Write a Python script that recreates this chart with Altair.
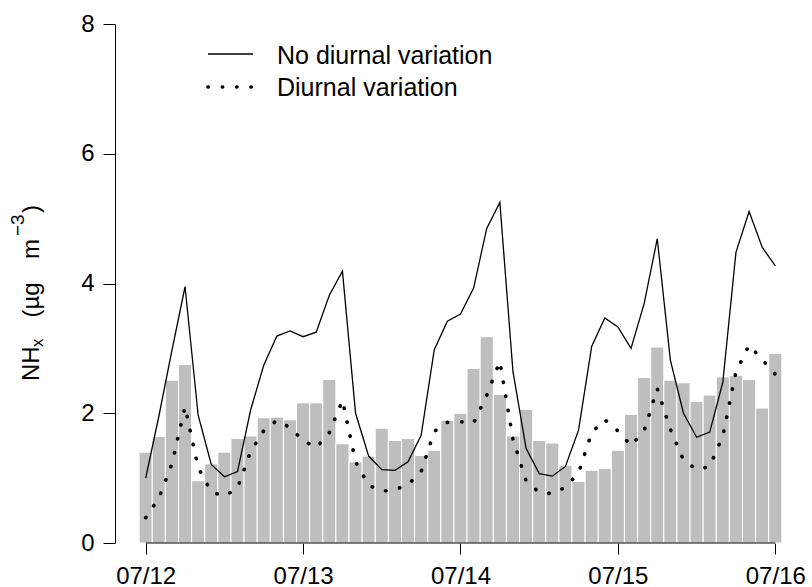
import altair as alt
import pandas as pd

# ---- data (2-hourly, starting 07/12 00:00) ----
hours = list(range(0, 97, 2))
observed = [1.40, 1.64, 2.51, 2.75, 0.96, 1.22, 1.40, 1.61, 1.65, 1.93, 1.94, 1.90,
            2.16, 2.16, 2.52, 1.53, 1.25, 1.34, 1.77, 1.58, 1.61, 1.35, 1.43, 1.89,
            2.00, 2.69, 3.18, 2.29, 1.65, 2.06, 1.58, 1.54, 1.20, 0.95, 1.12, 1.15,
            1.43, 1.98, 2.55, 3.02, 2.51, 2.47, 2.18, 2.28, 2.56, 2.58, 2.52, 2.08,
            2.92]
no_diurnal = [1.00, 1.95, 2.97, 3.95, 1.97, 1.21, 1.02, 1.10, 2.05, 2.74, 3.19, 3.27,
              3.18, 3.25, 3.82, 4.19, 2.00, 1.34, 1.13, 1.12, 1.25, 1.66, 2.98, 3.42,
              3.53, 3.93, 4.85, 5.25, 2.64, 1.46, 1.07, 1.03, 1.18, 1.74, 3.03, 3.47,
              3.33, 3.00, 3.69, 4.69, 2.82, 2.00, 1.63, 1.71, 2.48, 4.48, 5.11, 4.56,
              4.27]
diurnal = [0.39, 0.69, 1.22, 2.10, 1.16, 0.79, 0.72, 0.85, 1.41, 1.73, 1.89, 1.78,
           1.58, 1.47, 1.70, 2.20, 1.25, 0.89, 0.80, 0.82, 0.90, 1.10, 1.72, 1.86,
           1.87, 1.85, 2.28, 2.80, 1.60, 0.96, 0.78, 0.76, 0.86, 1.08, 1.70, 1.90,
           1.73, 1.50, 1.73, 2.38, 1.75, 1.28, 1.13, 1.18, 1.65, 2.64, 3.05, 2.83,
           2.60]
day_ticks = [0, 24, 48, 72, 96]
day_labels = ["07/12", "07/13", "07/14", "07/15", "07/16"]
y_ticks = [0, 2, 4, 6, 8]
legend_labels = ["No diurnal variation", "Diurnal variation"]

FONT = "Liberation Sans"
FS = 24

df = pd.DataFrame({
    "h": hours,
    "h0": [h - 1 for h in hours],
    "h1": [h + 1 for h in hours],
    "obs": observed,
    "nd": no_diurnal,
    "d": diurnal,
    "zero": [0] * len(hours),
})

xscale = alt.Scale(domain=[-4.68, 100.68], nice=False, zero=False)
yscale = alt.Scale(domain=[0, 8], nice=False, zero=True)

label_expr = " : ".join(f"datum.value == {t} ? '{l}'" for t, l in zip(day_ticks, day_labels)) + " : ''"

xaxis = alt.Axis(values=day_ticks, labelExpr=label_expr, domain=False, grid=False,
                 tickSize=11, tickColor="black", tickWidth=1,
                 labelFontSize=FS, labelFont=FONT, labelColor="black",
                 labelPadding=10, title=None, labelOverlap=False, labelFlush=False)
yaxis = alt.Axis(values=y_ticks, format="d", grid=False, domain=True, domainColor="black",
                 domainWidth=1, tickSize=12, tickColor="black", tickWidth=1,
                 labelFontSize=FS, labelFont=FONT, labelColor="black",
                 labelPadding=9, title=None)

bars = alt.Chart(df).mark_rect(color="#bebebe", stroke="white", strokeWidth=1).encode(
    x=alt.X("h0:Q", scale=xscale, axis=xaxis),
    x2="h1:Q",
    y=alt.Y("obs:Q", scale=yscale, axis=yaxis),
    y2="zero:Q",
)

axis_df = pd.DataFrame({"a": [day_ticks[0]], "b": [day_ticks[-1]], "y": [0]})
xline = alt.Chart(axis_df).mark_rule(color="black", strokeWidth=1).encode(
    x=alt.X("a:Q", scale=xscale), x2="b:Q", y=alt.Y("y:Q", scale=yscale))

line_nd = alt.Chart(df).mark_line(color="black", strokeWidth=1.3).encode(
    x=alt.X("h:Q", scale=xscale), y=alt.Y("nd:Q", scale=yscale))
line_d = alt.Chart(df).mark_line(color="black", strokeWidth=3.6, strokeDash=[0.4, 13.9],
                                 strokeCap="round").encode(
    x=alt.X("h:Q", scale=xscale), y=alt.Y("d:Q", scale=yscale))

# ---- legend (manual, pixel positions relative to plot area) ----
one = pd.DataFrame({"k": [0]})
leg_solid = alt.Chart(one).mark_rule(color="black", strokeWidth=1.3).encode(
    x=alt.value(93), x2=alt.value(138), y=alt.value(30))
leg_dot = alt.Chart(one).mark_rule(color="black", strokeWidth=3.6, strokeDash=[0.4, 13.9],
                                   strokeCap="round").encode(
    x=alt.value(93), x2=alt.value(138), y=alt.value(63))
leg_df = pd.DataFrame({"label": legend_labels, "yy": [39.5, 71.5]})
leg_text = alt.Chart(leg_df).mark_text(align="left", baseline="alphabetic", font=FONT,
                                       fontSize=25, color="black").encode(
    x=alt.value(162), y=alt.Y("yy:Q", scale=None), text="label:N")

# ---- y title: NH_x (µg m^-3), rotated ----
def rtext(txt, x, y, fs):
    return alt.Chart(one).mark_text(text=txt, angle=270, align="left", baseline="alphabetic",
                                    font=FONT, fontSize=fs, color="black").encode(
        x=alt.value(x), y=alt.value(y))

title_parts = [
    rtext("NH", -76.5, 357, 24),
    rtext("x", -72, 323, 17),
    rtext("(\u00b5g", -76.5, 293.5, 24),
    rtext("m", -76.5, 235, 24),
    rtext("\u22123", -91, 212, 19),
    rtext(")", -76.5, 189, 24),
]

chart = alt.layer(bars, xline, line_nd, line_d, leg_solid, leg_dot, leg_text, *title_parts).properties(
    width=691, height=519,
    autosize=alt.AutoSizeParams(type="none"),
    padding={"left": 115, "top": 24, "right": 6, "bottom": 44},
    background="white",
).configure_view(stroke=None)

chart.save("out.html", embed_options={"renderer": "svg", "actions": False})
